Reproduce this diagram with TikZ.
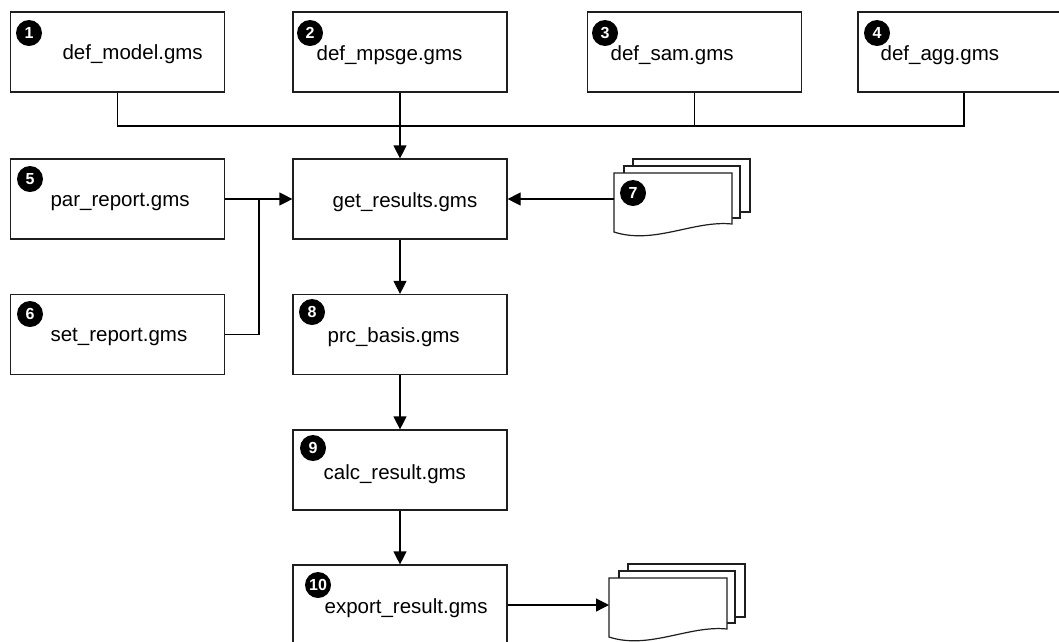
\documentclass[tikz,border=0pt]{standalone}
\usepackage{fontspec}
\setmainfont{Liberation Sans}
\usepackage{tikz}
\usetikzlibrary{arrows.meta}
\definecolor{framegray}{RGB}{30, 30, 30}

\begin{document}
\begin{tikzpicture}[x=1pt, y=-1pt, line width=1.2pt,
	filebox/.style={draw=framegray, fill=white, minimum width=214pt, minimum height=80pt, inner sep=0pt},
	filename/.style={anchor=base west, inner sep=0pt, font=\fontsize{20.5}{24}\selectfont},
	badge/.style={circle, fill=black, text=white, minimum size=26pt, inner sep=0pt, font=\fontsize{16}{16}\selectfont\bfseries},
	flow/.style={-{Triangle[length=13pt, width=13pt]}},
	page/.style={draw=framegray, fill=white}]
	
	% Fix the frame of the picture (boxes at the edges are cut off)
	\clip (0, 0) rectangle (1059, 641);
	
	% --- Definition files (top row) ---
	\node[filebox] (model) at (117.5, 52) {};
	\node[filebox] (mpsge) at (400, 52) {};
	\node[filebox] (sam) at (694.5, 52) {};
	\node[filebox] (agg) at (965, 52) {};
	\node[filename] (modeltxt) at (62, 59) {def\_model.gms};
	\node[filename] (mpsgetxt) at (316, 60) {def\_mpsge.gms};
	\node[filename] (samtxt) at (610, 60) {def\_sam.gms};
	\node[filename] (aggtxt) at (880, 60) {def\_agg.gms};
	\node[badge] (b1) at (29, 33) {1};
	\node[badge] (b2) at (310, 33) {2};
	\node[badge] (b3) at (605, 33) {3};
	\node[badge] (b4) at (877, 33) {4};
	
	% --- Report files (left column) ---
	\node[filebox] (parrep) at (117.5, 199) {};
	\node[filebox] (setrep) at (117.5, 334.5) {};
	\node[filename] (pareptxt) at (50, 206) {par\_report.gms};
	\node[filename] (setreptxt) at (50, 341) {set\_report.gms};
	\node[badge] (b5) at (30, 179) {5};
	\node[badge] (b6) at (30, 314) {6};
	
	% --- Processing chain (middle column) ---
	\node[filebox] (getres) at (400, 199) {};
	\node[filebox] (prcbas) at (400, 334.5) {};
	\node[filebox] (calcres) at (400, 470) {};
	\node[filebox] (expres) at (400, 605) {};
	\node[filename] (getrestxt) at (332, 207) {get\_results.gms};
	\node[filename] (prcbastxt) at (327, 342) {prc\_basis.gms};
	\node[filename] (calcrestxt) at (323, 479) {calc\_result.gms};
	\node[filename] (exprestxt) at (324, 613) {export\_result.gms};
	\node[badge] (b8) at (312, 312) {8};
	\node[badge] (b9) at (313, 448) {9};
	\node[badge] (b10) at (318, 585) {10};
	
	% --- Stacked documents (input and output) ---
	\foreach \px/\py/\ay/\nm in {614/173/199/docin, 609/578/605/docout} {
		\draw[page] (\px+19, \py-14) rectangle ++(117, 53);
		\draw[page] (\px+10, \py-7) rectangle ++(116, 52);
		\draw[page] (\px, \py) -- ++(118, 0) -- ++(0, 51)
			.. controls (\px+80, \py+47) and (\px+40, \py+72) .. (\px, \py+59) -- cycle;
		\coordinate (\nm) at (\px, \ay);
	}
	\node[badge] (b7) at (633, 193) {7};
	
	% --- Connectors ---
	\coordinate (bus) at (400, 126);
	\coordinate (merge) at (259, 199);
	\draw (model.south) |- (bus);
	\draw (sam.south) |- (bus);
	\draw ([xshift=-1pt]agg.south) |- (bus);
	\draw[flow] (mpsge.south) -- (getres.north);
	\draw[flow] (parrep.east) -- (getres.west);
	\draw (setrep.east) -| (merge);
	\draw[flow] (docin) -- (docin -| getres.east);
	\draw[flow] (getres.south) -- (prcbas.north);
	\draw[flow] (prcbas.south) -- (calcres.north);
	\draw[flow] (calcres.south) -- (expres.north);
	\draw[flow] (expres.east |- docout) -- (docout);
\end{tikzpicture}
\end{document}
